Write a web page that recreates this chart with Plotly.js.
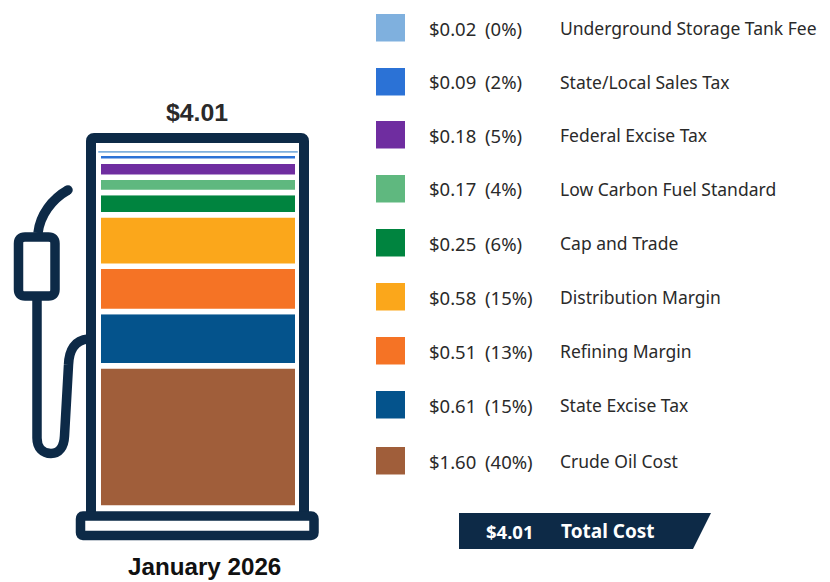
<!DOCTYPE html>
<html>
<head>
<meta charset="utf-8">
<script src="https://cdn.plot.ly/plotly-3.0.1.min.js"></script>
<style>html,body{margin:0;padding:0;background:#fff}#c{width:830px;height:582px}</style>
</head>
<body>
<div id="c"></div>
<script>
// Data, top of the pump first (same order as the legend)
const categories = ["Underground Storage Tank Fee","State/Local Sales Tax","Federal Excise Tax","Low Carbon Fuel Standard","Cap and Trade","Distribution Margin","Refining Margin","State Excise Tax","Crude Oil Cost"];
const values = [0.02,0.09,0.18,0.17,0.25,0.58,0.51,0.61,1.60];
const percents = ["(0%)","(2%)","(5%)","(4%)","(6%)","(15%)","(13%)","(15%)","(40%)"];
const colors = ["#7fb0de","#2b72d6","#6f2da0","#5fb87f","#00843f","#fba71b","#f57325","#04538c","#a05e3a"];
const rowY = [28,82,135,189,243,297,351,405,461];
const period = "January 2026";
const totalLabel = "$4.01";

const W = 830, H = 582, NAVY = "#0d2a47";
const px = x => x / W, py = y => 1 - y / H;
const FONT = "Noto Sans";

// Stack bottom-up through the library's scale
const traces = [];
let cum = 0;
for (let i = values.length - 1; i >= 0; i--) {
  const top = i === 0;
  traces.push({
    type: "bar", name: categories[i], x: [198], y: [values[i]], width: [199.5],
    base: [top ? cum + 0.006 : cum],
    marker: {color: colors[i], line: {color: "#ffffff", width: top ? 0 : 5.5}},
    hovertemplate: categories[i] + ": $%{y:.2f}<extra></extra>"
  });
  cum += values[i];
}

// Path helper: pixel pairs to paper fractions
const path = (tpl) => tpl.replace(/(-?[\d.]+),(-?[\d.]+)/g, (m, a, b) => px(+a) + "," + py(+b));
const outline = (d, w, fill) => ({type:"path", xref:"paper", yref:"paper", path:path(d), layer:"above",
  line:{color:NAVY, width:w}, fillcolor: fill || "rgba(0,0,0,0)"});

const shapes = [
  outline("M91,513 L91,141 Q91,138 94,138 L301,138 Q304,138 304,141 L304,513", 10),
  outline("M83,516 L311,516 Q314,516 314,519 L314,532.5 Q314,535.5 311,535.5 L83,535.5 Q80.5,535.5 80.5,532.5 L80.5,519 Q80.5,516 83,516 Z", 9.5, "#ffffff"),
  outline("M25,237 L48.5,237 Q55,237 55,243.5 L55,289.5 Q55,296 48.5,296 L25,296 Q18.5,296 18.5,289.5 L18.5,243.5 Q18.5,237 25,237 Z", 9.5),
  outline("M38,233 C40,215 52,199 68,190", 9.5),
  {type:"circle", xref:"paper", yref:"paper", layer:"above", x0:px(63.25), x1:px(72.75), y0:py(185.25), y1:py(194.75),
   fillcolor:NAVY, line:{width:0}},
  outline("M37,300 L37,438 C37,448 43,453.5 51,453.5 C59,453.5 64,447 64.5,436 L68.5,365 C69,350 75,340 88,339", 9.5),
  {type:"path", xref:"paper", yref:"paper", layer:"above", path:path("M459,513 L711,513 L693,549 L459,549 Z"),
   fillcolor:NAVY, line:{width:0}}
];

const annotations = [];
const ann = (text, x, y, size, color, bold, anchor, family) => annotations.push({
  text: bold ? "<b>" + text + "</b>" : text, x: px(x), y: py(y), xref:"paper", yref:"paper",
  xanchor: anchor || "left", yanchor:"middle", showarrow:false,
  font:{family: family || FONT, size, color}
});

categories.forEach((c, i) => {
  shapes.push({type:"rect", xref:"paper", yref:"paper", layer:"above",
    x0:px(376), x1:px(405), y0:py(rowY[i]-14), y1:py(rowY[i]+13.5),
    fillcolor:colors[i], line:{width:0}});
  ann("$" + values[i].toFixed(2), 426.5, rowY[i], 18.5, "#2a2a2a");
  ann(percents[i], 483, rowY[i], 18.5, "#2a2a2a");
  ann(c, 558, rowY[i], 17.5, "#2a2a2a");
});
ann(totalLabel, 197, 113, 24.8, "#2a2a2a", true, "center", "Liberation Sans");
ann(period, 204, 566, 24.2, "#111111", true, "center", "Liberation Sans");
ann(totalLabel, 484, 531, 18.5, "#ffffff", true);
ann("Total Cost", 559, 531, 19, "#ffffff", true);

const layout = {
  width:W, height:H, margin:{l:0,r:0,t:0,b:0}, showlegend:false, barmode:"overlay",
  paper_bgcolor:"#ffffff", plot_bgcolor:"#ffffff",
  xaxis:{range:[0,W], visible:false, fixedrange:true},
  yaxis:{range:[(508-H)/88.9, 508/88.9], visible:false, fixedrange:true},
  shapes, annotations
};
Plotly.newPlot("c", traces, layout, {displayModeBar:false, staticPlot:true});
</script>
</body>
</html>
